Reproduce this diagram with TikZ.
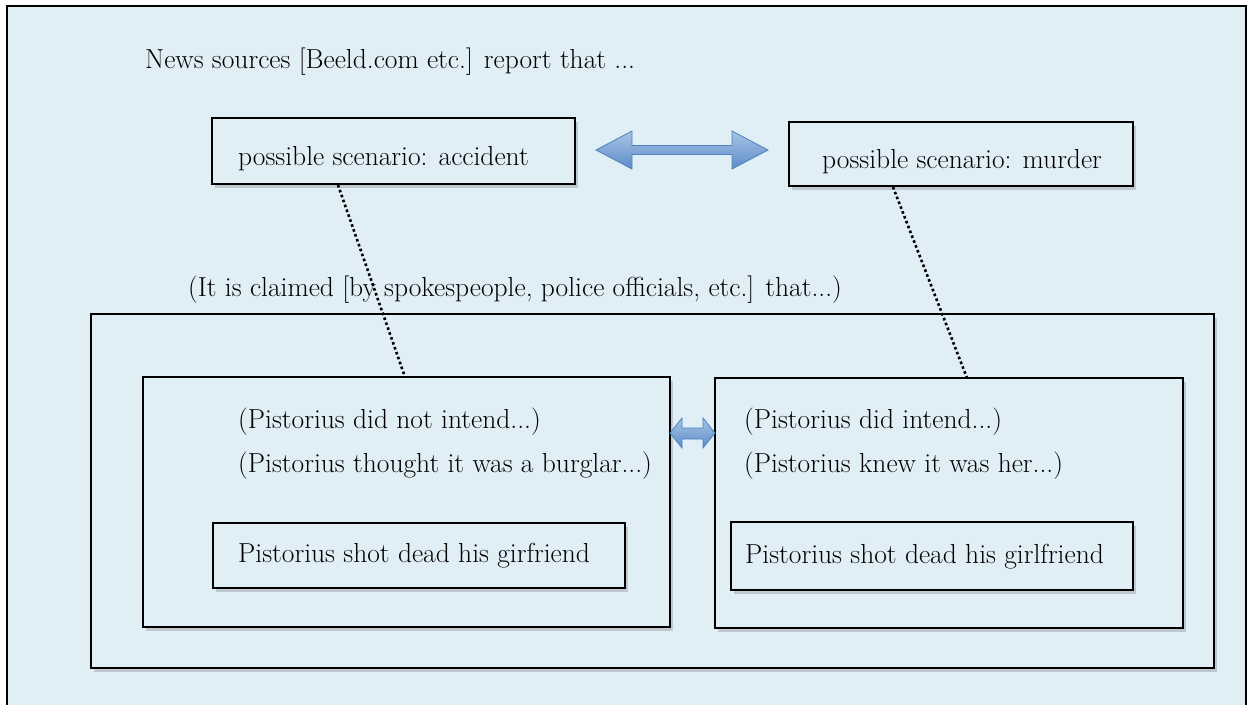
\documentclass[tikz,border=0pt]{standalone}
\usetikzlibrary{shadows}
\definecolor{bgblue}{HTML}{E0EEF6}
\definecolor{arrowtop}{HTML}{A9C4E6}
\definecolor{arrowbot}{HTML}{5B8BC8}
\definecolor{arrowedge}{HTML}{4F81BD}
\begin{document}
\begin{tikzpicture}[x=1pt,y=-1pt,
  every node/.style={font=\fontsize{27.5}{32}\selectfont, inner sep=0pt},
  frame/.style={draw=black, line width=1.8pt, fill=bgblue,
    drop shadow={shadow xshift=2.5pt, shadow yshift=-3.5pt, opacity=0.3, fill=black!55}},
  lbl/.style={anchor=base west, text=black},
  dots/.style={line width=2.6pt, dash pattern=on 2.6pt off 2.6pt},
  fatarrow/.style={draw=arrowedge, line width=0.8pt, top color=arrowtop, bottom color=arrowbot}
]
\useasboundingbox (0,0) rectangle (1250,704);
\clip (0,0) rectangle (1250,704);
\fill[white] (0,0) rectangle (1250,704);
\draw[line width=1.8pt, fill=bgblue] (7,6) rectangle (1246,720);

\node[lbl] (news) at (145,68) {News sources [Beeld.com etc.] report that ...};

% scenario boxes
\path[frame] (212,118) rectangle (575,184);
\node[lbl] (acc) at (238,165) {possible scenario: accident};
\path[frame] (789,122) rectangle (1133,186);
\node[lbl] (mur) at (822,168) {possible scenario: murder};

% big double arrow
\path[fatarrow] (596,150) -- (632,131) -- (632,145.5) -- (732,145.5) -- (732,131) -- (768,150)
  -- (732,169) -- (732,154.5) -- (632,154.5) -- (632,169) -- cycle;

\node[lbl] (claim) at (188,296) {(It is claimed [by spokespeople, police officials, etc.] that...)};

% big box
\path[frame] (91,314) rectangle (1214,668);
% inner boxes
\path[frame] (143,377) rectangle (670,627);
\path[frame] (715,378) rectangle (1183,628);

% small double arrow
\path[fatarrow] (670,433) -- (682,418) -- (682,428) -- (703,428) -- (703,418) -- (715,433)
  -- (703,448) -- (703,439) -- (682,439) -- (682,448) -- cycle;

\node[lbl] (l1) at (238,428) {(Pistorius did not intend...)};
\node[lbl] (l2) at (238,472) {(Pistorius thought it was a burglar...)};
\node[lbl] (r1) at (744,428) {(Pistorius did intend...)};
\node[lbl] (r2) at (744,472) {(Pistorius knew it was her...)};

\path[frame] (213,523) rectangle (625,588);
\node[lbl] (lshot) at (238,562) {Pistorius shot dead his girfriend};
\path[frame] (731,522) rectangle (1133,590);
\node[lbl] (rshot) at (745,563) {Pistorius shot dead his girlfriend};

% dotted links
\coordinate (aA) at (338,185);
\coordinate (aB) at (405,377);
\coordinate (mA) at (893,187);
\coordinate (mB) at (967,378);
\draw[dots] (aA) -- (aB);
\draw[dots] (mA) -- (mB);
\end{tikzpicture}
\end{document}
